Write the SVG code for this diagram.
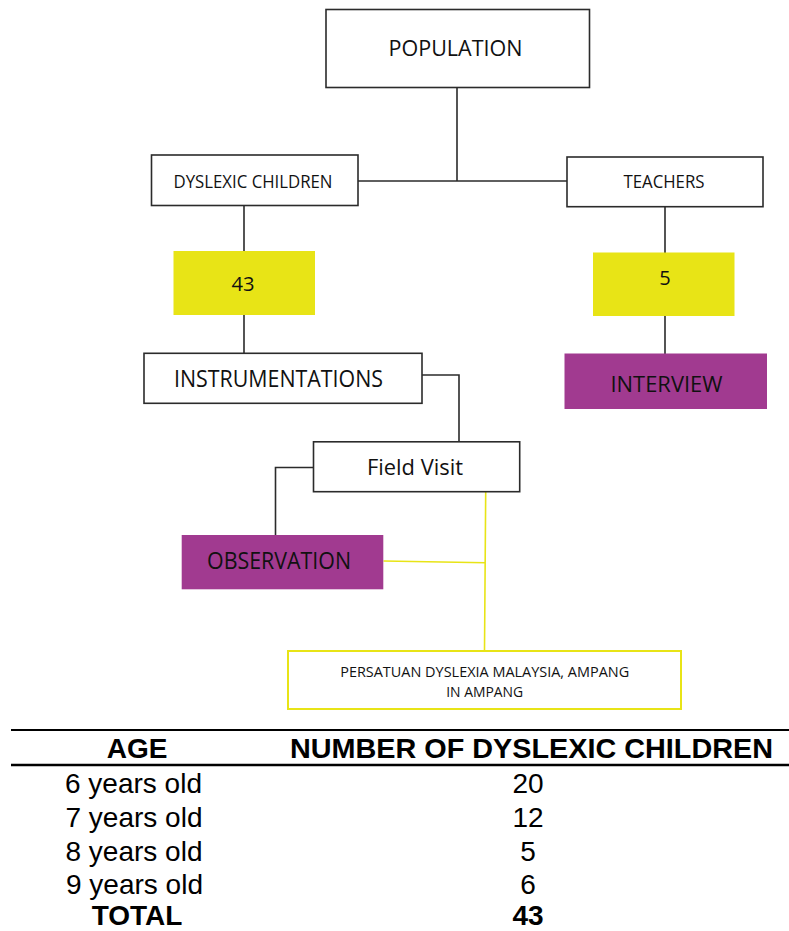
<svg xmlns="http://www.w3.org/2000/svg" width="789" height="931" viewBox="0 0 789 931">
<style>
.box{fill:#ffffff;stroke:#2b2b2b;stroke-width:1.6}
.yel{fill:#e8e416}
.pur{fill:#a13a90}
.lbl{font-family:"Open Sans","Noto Sans",sans-serif;fill:#111;text-anchor:middle}
.con{fill:none;stroke:#2b2b2b;stroke-width:1.6}
.ycon{fill:none;stroke:#e8e416;stroke-width:1.6}
.tbl{font-family:"Liberation Sans",Arial,sans-serif;font-size:28px;fill:#000;text-anchor:middle}
.b{font-weight:bold}
.rule{stroke:#000}
</style>
<rect width="789" height="931" fill="#ffffff"/>
<g id="connectors">
<path class="con" d="M457 87 V181 M358 181 H567"/>
<path class="con" d="M244 206 V251 M244 315 V353"/>
<path class="con" d="M665 207 V253 M665 316 V354"/>
<path class="con" d="M422 375 H459 V442"/>
<path class="con" d="M313 467.5 H275.5 V535"/>
<path class="ycon" d="M485.7 492 L484.5 650.5 M383.5 561 L485.5 562.7"/>
</g>
<g id="population">
<rect class="box" x="326" y="9.5" width="263.5" height="78"/>
<text class="lbl" x="455.5" y="55.5" font-size="22.5" textLength="134" lengthAdjust="spacingAndGlyphs">POPULATION</text>
</g>
<g id="dyslexic-children">
<rect class="box" x="151.5" y="155" width="206.5" height="50.5"/>
<text class="lbl" x="253" y="188" font-size="18.5" textLength="159" lengthAdjust="spacingAndGlyphs">DYSLEXIC CHILDREN</text>
</g>
<g id="teachers">
<rect class="box" x="567" y="157" width="196" height="49.7"/>
<text class="lbl" x="664" y="187.5" font-size="18" textLength="81" lengthAdjust="spacingAndGlyphs">TEACHERS</text>
</g>
<g id="n43">
<rect class="yel" x="173.5" y="251" width="141.5" height="64"/>
<text class="lbl" x="243" y="290.5" font-size="20" textLength="23" lengthAdjust="spacingAndGlyphs">43</text>
</g>
<g id="n5">
<rect class="yel" x="593" y="252.5" width="141.5" height="63.5"/>
<text class="lbl" x="665" y="285" font-size="20">5</text>
</g>
<g id="instrumentations">
<rect class="box" x="144" y="353.3" width="278" height="50"/>
<text class="lbl" x="278.5" y="386.5" font-size="23" textLength="209" lengthAdjust="spacingAndGlyphs">INSTRUMENTATIONS</text>
</g>
<g id="interview">
<rect class="pur" x="564.5" y="353.5" width="202.5" height="55.5"/>
<text class="lbl" x="666.5" y="391.5" font-size="22" textLength="112" lengthAdjust="spacingAndGlyphs">INTERVIEW</text>
</g>
<g id="field-visit">
<rect class="box" x="313.5" y="441.8" width="206.2" height="49.9"/>
<text class="lbl" x="415" y="475" font-size="21.5" textLength="96" lengthAdjust="spacingAndGlyphs">Field Visit</text>
</g>
<g id="observation">
<rect class="pur" x="181.7" y="535" width="201.6" height="54.3"/>
<text class="lbl" x="279" y="569" font-size="23" textLength="144" lengthAdjust="spacingAndGlyphs">OBSERVATION</text>
</g>
<g id="persatuan">
<rect x="288" y="651" width="393" height="58" fill="#ffffff" stroke="#e8e416" stroke-width="2"/>
<text class="lbl" x="484.7" y="677.3" font-size="15" textLength="289" lengthAdjust="spacingAndGlyphs">PERSATUAN DYSLEXIA MALAYSIA, AMPANG</text>
<text class="lbl" x="484.7" y="696.7" font-size="15" textLength="77" lengthAdjust="spacingAndGlyphs">IN AMPANG</text>
</g>
<g id="table">
<line class="rule" x1="11" y1="730" x2="789" y2="730" stroke-width="2"/>
<line class="rule" x1="11" y1="765" x2="789" y2="765" stroke-width="2.6"/>
<text class="tbl b" x="137" y="758">AGE</text>
<text class="tbl b" x="531.5" y="758" textLength="483" lengthAdjust="spacingAndGlyphs">NUMBER OF DYSLEXIC CHILDREN</text>
<text class="tbl" x="133.5" y="793">6 years old</text>
<text class="tbl" x="528" y="793">20</text>
<text class="tbl" x="134" y="826.7">7 years old</text>
<text class="tbl" x="528" y="826.7">12</text>
<text class="tbl" x="134" y="860.5">8 years old</text>
<text class="tbl" x="528" y="860.5">5</text>
<text class="tbl" x="134.5" y="893.5">9 years old</text>
<text class="tbl" x="528" y="893.5">6</text>
<text class="tbl b" x="137" y="925">TOTAL</text>
<text class="tbl b" x="528" y="925">43</text>
</g>
</svg>
